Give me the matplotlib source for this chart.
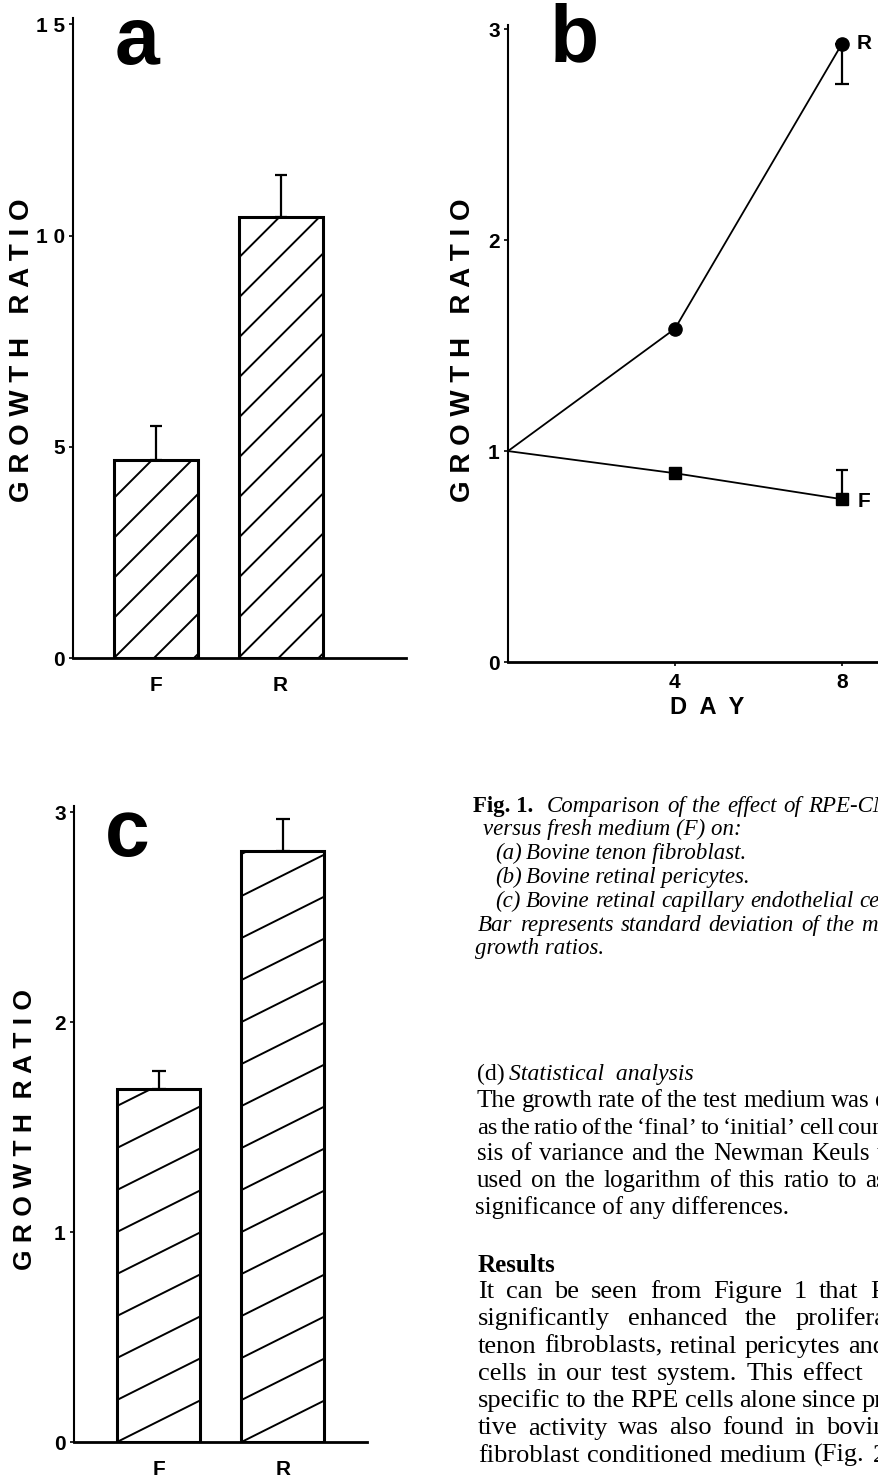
import matplotlib
matplotlib.use("Agg")
import matplotlib.pyplot as plt

W, H, DPI = 879, 1478, 100

# panel a - bovine tenon fibroblast
a_groups = ["F", "R"]
a_means = [4.69, 10.43]
a_sd = [0.81, 1.00]
a_yticks = [0, 5, 10, 15]
a_yticklabels = ["0", "5", "1 0", "1 5"]

# panel b - bovine retinal pericytes, time course
b_days = [0, 4, 8]
b_r = [1.0, 1.58, 2.93]
b_f = [1.0, 0.895, 0.772]
b_r_sd = 0.19   # drawn downward at day 8
b_f_sd = 0.14   # drawn upward at day 8
b_yticks = [0, 1, 2, 3]
b_xticks = [4, 8]

# panel c - bovine retinal capillary endothelial cells
c_groups = ["F", "R"]
c_means = [1.683, 2.814]
c_sd = [0.083, 0.156]
c_yticks = [0, 1, 2, 3]

caption_lines = [
    "versus fresh medium (F) on:",
    "Bar represents standard deviation of the me",
    "growth ratios.",
]
caption_items = [
    ("(a)", "Bovine tenon fibroblast."),
    ("(b)", "Bovine retinal pericytes."),
    ("(c)", "Bovine retinal capillary endothelial cel"),
]
methods_lines = [
    "The growth rate of the test medium was e",
    "as the ratio of the \u2018final\u2019 to \u2018initial\u2019 cell coun",
    "sis of variance and the Newman Keuls t",
    "used on the logarithm of this ratio to as",
    "significance of any differences.",
]
results_lines = [
    "It can be seen from Figure 1 that R",
    "significantly enhanced the prolifera",
    "tenon fibroblasts, retinal pericytes and",
    "cells in our test system. This effect",
    "specific to the RPE cells alone since pr",
    "tive activity was also found in bovin",
    "fibroblast conditioned medium (Fig. 2",
]

SANS = "Liberation Sans"
SERIF = "Liberation Serif"

fig = plt.figure(figsize=(W / DPI, H / DPI), dpi=DPI)
fig.patch.set_facecolor("white")


def px(x, y):
    return x / W, 1 - y / H


def make_axes(left, right, bottom, top):
    ax = fig.add_axes([left / W, 1 - bottom / H, (right - left) / W, (bottom - top) / H])
    for s in ["top", "right"]:
        ax.spines[s].set_visible(False)
    ax.spines["left"].set_linewidth(1.5)
    ax.spines["bottom"].set_linewidth(2.0)
    ax.set_facecolor("none")
    return ax


def hatch_bar(ax, patch, slope, step, lw=1.4):
    # diagonal hatching drawn in pixel space, clipped to the bar outline
    x0, y0, x1, y1 = patch.get_window_extent().extents
    inv = ax.transData.inverted()
    k0 = -int((x1 - x0) * slope / step) - 2
    k1 = int((y1 - y0) / step) + 2
    for k in range(k0, k1):
        ya = y0 + k * step
        yb = ya + slope * (x1 - x0)
        (dx0, dy0), (dx1, dy1) = inv.transform([(x0, ya), (x1, yb)])
        ln, = ax.plot([dx0, dx1], [dy0, dy1], color="black", lw=lw, zorder=2,
                      solid_capstyle="butt")
        ln.set_clip_path(patch)


def bar_panel(ax, groups, means, sd, xlim, ylim, width, slope, step, capsize):
    ax.set_xlim(*xlim)
    ax.set_ylim(*ylim)
    pos = list(range(len(groups)))
    bars = ax.bar(pos, means, width=width, facecolor="none", edgecolor="black",
                  linewidth=2.2, zorder=3)
    for b in bars:
        hatch_bar(ax, b, slope, step)
    ax.errorbar(pos, means, yerr=[[0] * len(sd), sd], fmt="none", ecolor="black",
                elinewidth=1.6, capsize=capsize, capthick=1.6, zorder=4)
    ax.set_xticks(pos)
    ax.set_xticklabels(groups, fontfamily=SANS, fontweight="bold", fontsize=15)
    ax.tick_params(axis="x", length=0, pad=13)


# ---- panel a
ax_a = make_axes(73, 406, 658, 18)
bar_panel(ax_a, a_groups, a_means, a_sd, (-0.667, 2.008), (0, 15.15), 0.675,
          1.0, 40, 4)
ax_a.set_yticks(a_yticks)
ax_a.set_yticklabels(a_yticklabels, fontfamily=SANS, fontsize=15, fontweight="bold")
ax_a.tick_params(axis="y", length=3, width=1.2, pad=3)

# ---- panel b
ax_b = make_axes(508, 879, 662, 25)
ax_b.set_xlim(0, 8.89)
ax_b.set_ylim(0, 3.02)
ax_b.plot(b_days, b_r, color="black", lw=1.3, marker="o", markersize=9.5,
          markevery=[1, 2], zorder=3)
ax_b.plot(b_days, b_f, color="black", lw=1.3, marker="s", markersize=9,
          markevery=[1, 2], zorder=3)
ax_b.errorbar([b_days[-1]], [b_r[-1]], yerr=[[b_r_sd], [0]], fmt="none", ecolor="black",
              elinewidth=1.6, capsize=5, capthick=1.6, zorder=2)
ax_b.errorbar([b_days[-1]], [b_f[-1]], yerr=[[0], [b_f_sd]], fmt="none", ecolor="black",
              elinewidth=1.6, capsize=4.5, capthick=1.6, zorder=2)
ax_b.annotate("R", (b_days[-1], b_r[-1]), xytext=(16, 0), textcoords="offset points",
              ha="center", va="center", fontfamily=SANS, fontweight="bold", fontsize=15)
ax_b.annotate("F", (b_days[-1], b_f[-1]), xytext=(16, -2), textcoords="offset points",
              ha="center", va="center", fontfamily=SANS, fontweight="bold", fontsize=15)
ax_b.set_xticks(b_xticks)
ax_b.set_xticklabels([str(d) for d in b_xticks], fontfamily=SANS, fontweight="bold",
                     fontsize=15)
ax_b.set_yticks(b_yticks)
ax_b.set_yticklabels([str(v) for v in b_yticks], fontfamily=SANS, fontweight="bold",
                     fontsize=15)
ax_b.tick_params(axis="x", length=3, width=1.2, pad=5)
ax_b.tick_params(axis="y", length=3, width=1.2, pad=3)

# ---- panel c
ax_c = make_axes(74, 367, 1442, 806)
bar_panel(ax_c, c_groups, c_means, c_sd, (-0.679, 1.675), (0, 3.03), 0.667,
          0.5, 42, 5)
ax_c.set_yticks(c_yticks)
ax_c.set_yticklabels([str(v) for v in c_yticks], fontfamily=SANS, fontsize=15,
                     fontweight="bold")
ax_c.tick_params(axis="y", length=3, width=1.2, pad=3)

# ---- panel letters and axis titles
for letter, (x, y) in [("a", (137, 43)), ("b", (574, 40)), ("c", (127, 835))]:
    fig.text(*px(x, y), letter, ha="center", va="center", fontfamily=SANS,
             fontweight="bold", fontsize=58)

ylab = "G R O W T H   R A T I O"
fig.text(*px(22, 350), ylab, rotation=90, ha="center", va="center", fontfamily=SANS,
         fontweight="bold", fontsize=20)
fig.text(*px(463, 350), ylab, rotation=90, ha="center", va="center", fontfamily=SANS,
         fontweight="bold", fontsize=20)
fig.text(*px(25, 1130), "G R O W T H  R A T I O", rotation=90, ha="center", va="center",
         fontfamily=SANS, fontweight="bold", fontsize=19)
fig.text(*px(707, 708), "D  A  Y", ha="center", va="center", fontfamily=SANS,
         fontweight="bold", fontsize=17)

# ---- caption and body text
renderer = fig.canvas.get_renderer()


def justify(text, x0, x1, y, min_gap=4, **kw):
    words = text.split()
    arts = [fig.text(0, 0, w, ha="left", va="baseline", **kw) for w in words]
    size = kw.get("fontsize", 15)
    while True:
        widths = [a.get_window_extent(renderer).width for a in arts]
        gap = (x1 - x0 - sum(widths)) / max(len(words) - 1, 1)
        if gap >= min_gap or size <= 10:
            break
        size -= 0.25
        for a in arts:
            a.set_fontsize(size)
    x = x0
    for a, w in zip(arts, widths):
        a.set_position(px(x, y))
        x += w + gap


def plain(text, x, y, **kw):
    fig.text(*px(x, y), text, ha="left", va="baseline", **kw)


cap_kw = dict(fontfamily=SERIF, fontstyle="italic", fontsize=16.5)
body_kw = dict(fontfamily=SERIF, fontsize=18)

plain("Fig. 1.", 473, 812, fontfamily=SERIF, fontweight="bold", fontsize=16.5)
justify("Comparison of the effect of RPE-CM", 547, 892, 812, **cap_kw)
plain(caption_lines[0], 483, 835, **cap_kw)
for i, (tag, txt) in enumerate(caption_items):
    y = 859 + i * 24
    plain(tag, 495, y, **cap_kw)
    if i < 2:
        plain(txt, 526, y, **cap_kw)
    else:
        justify(txt, 526, 886, y, **cap_kw)
justify(caption_lines[1], 478, 888, 931, **cap_kw)
plain(caption_lines[2], 475, 954, **cap_kw)

plain("(d)", 477, 1080, fontfamily=SERIF, fontsize=17)
plain("Statistical  analysis", 509, 1080, fontfamily=SERIF, fontstyle="italic",
      fontsize=17)
m_right = [886, 884, 884, 886, None]
for i, line in enumerate(methods_lines):
    y = 1107 + i * 26.7
    if m_right[i] is None:
        plain(line, 475, y, **body_kw)
    else:
        justify(line, 477, m_right[i], y, min_gap=3, **body_kw)

plain("Results", 478, 1272, fontfamily=SERIF, fontweight="bold", fontsize=18)
r_right = [888, 886, 886, 863, 884, 886, 886]
for i, line in enumerate(results_lines):
    justify(line, 478, r_right[i], 1298 + i * 27.3, fontfamily=SERIF, fontsize=19)

fig.savefig("out.png", dpi=DPI, facecolor="white")
